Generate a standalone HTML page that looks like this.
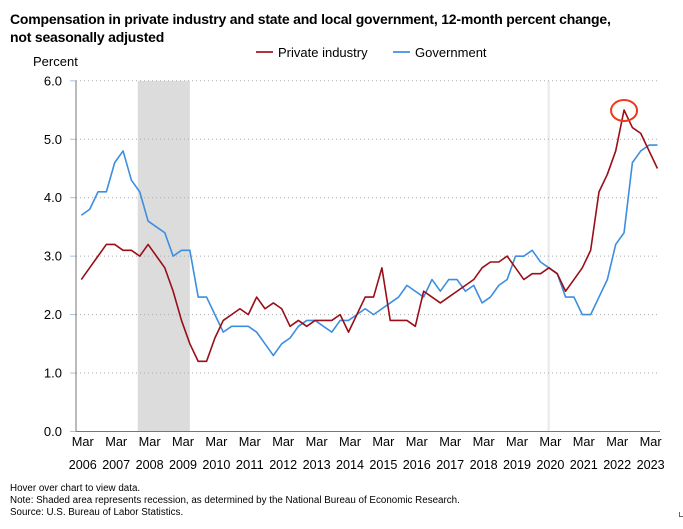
<!DOCTYPE html>
<html><head><meta charset="utf-8"><style>
body{margin:0;background:#fff;font-family:"Liberation Sans",sans-serif;}
#wrap{position:relative;width:683px;height:529px;overflow:hidden;}
.title{position:absolute;left:10px;top:10px;font-size:14px;font-weight:bold;line-height:18px;color:#000;letter-spacing:-0.2px;}
.foot{position:absolute;left:10px;font-size:9.8px;color:#000;}
</style></head><body>
<div id="wrap">
<div class="title">Compensation in private industry and state and local government, 12-month percent change,<br>not seasonally adjusted</div>
<svg id="chart" width="683" height="529" style="position:absolute;left:0;top:0"></svg>
<div class="foot" style="top:483px">Hover over chart to view data.</div>
<div class="foot" style="top:495px">Note: Shaded area represents recession, as determined by the National Bureau of Economic Research.</div>
<div class="foot" style="top:507px">Source: U.S. Bureau of Labor Statistics.</div>
<div style="position:absolute;left:679px;top:512px;width:3px;height:4px;border-left:1px solid #666;border-bottom:1px solid #666"></div>
</div>
<script>
const years=[2006,2007,2008,2009,2010,2011,2012,2013,2014,2015,2016,2017,2018,2019,2020,2021,2022,2023];
const yTicks=[0,1,2,3,4,5,6];
const privateIndustry=[2.6,2.8,3.0,3.2,3.2,3.1,3.1,3.0,3.2,3.0,2.8,2.4,1.9,1.5,1.2,1.2,1.6,1.9,2.0,2.1,2.0,2.3,2.1,2.2,2.1,1.8,1.9,1.8,1.9,1.9,1.9,2.0,1.7,2.0,2.3,2.3,2.8,1.9,1.9,1.9,1.8,2.4,2.3,2.2,2.3,2.4,2.5,2.6,2.8,2.9,2.9,3.0,2.8,2.6,2.7,2.7,2.8,2.7,2.4,2.6,2.8,3.1,4.1,4.4,4.8,5.5,5.2,5.1,4.8,4.5];
const government=[3.7,3.8,4.1,4.1,4.6,4.8,4.3,4.1,3.6,3.5,3.4,3.0,3.1,3.1,2.3,2.3,2.0,1.7,1.8,1.8,1.8,1.7,1.5,1.3,1.5,1.6,1.8,1.9,1.9,1.8,1.7,1.9,1.9,2.0,2.1,2.0,2.1,2.2,2.3,2.5,2.4,2.3,2.6,2.4,2.6,2.6,2.4,2.5,2.2,2.3,2.5,2.6,3.0,3.0,3.1,2.9,2.8,2.7,2.3,2.3,2.0,2.0,2.3,2.6,3.2,3.4,4.6,4.8,4.9,4.9];
const recession=[7,13];
const covidMarker=56;
const peakIndex=65;

const svg=document.getElementById('chart');
const NS='http://www.w3.org/2000/svg';
const x0=81.3,dx=8.35,yZero=431.5,yUnit=58.45,plotL=76,plotR=660;
function xs(i){return x0+dx*i;}
function ys(v){return yZero-v*yUnit;}
function mk(tag,attrs,parent){const e=document.createElementNS(NS,tag);for(const k in attrs)e.setAttribute(k,attrs[k]);(parent||svg).appendChild(e);return e;}

let r=mk('rect',{x:xs(recession[0])-2,y:ys(6),width:xs(recession[1])-xs(recession[0])+2,height:ys(0)-ys(6),fill:'#dcdcdc'});


let cv=mk('rect',{x:xs(covidMarker)-1.5,y:ys(6),width:2.5,height:ys(0)-ys(6),fill:'#ececec'});



yTicks.forEach(v=>{
  if(v>0){let g=mk('line',{x1:plotL,x2:plotR,y1:ys(v),y2:ys(v),stroke:'#aaa','stroke-width':1,'stroke-dasharray':'1,3'});
  
  }
  let tk=mk('line',{x1:plotL-6,x2:plotL,y1:ys(v),y2:ys(v),stroke:'#a8c0e0','stroke-width':1});
  
  
  let t=mk('text',{x:62,y:ys(v)+4.5,'text-anchor':'end','font-size':13,fill:'#000','font-family':'Liberation Sans, sans-serif'});
  t.textContent=v.toFixed(1);
  
  
});
let yt=mk('text',{x:33,y:66,'font-size':13,fill:'#000','font-family':'Liberation Sans, sans-serif'});
yt.textContent='Percent';



let ya=mk('line',{x1:plotL,x2:plotL,y1:ys(6),y2:ys(0),stroke:'#777','stroke-width':1});


let xa=mk('line',{x1:plotL,x2:plotR,y1:ys(0),y2:ys(0),stroke:'#777','stroke-width':1});



years.forEach((yr,k)=>{
  const cx=xs(k*4)+1.5;
  let t1=mk('text',{x:cx,y:446,'text-anchor':'middle','font-size':13,fill:'#000','font-family':'Liberation Sans, sans-serif',textLength:22,lengthAdjust:'spacingAndGlyphs'});
  t1.textContent='Mar';
  
  
  let t2=mk('text',{x:cx,y:469,'text-anchor':'middle','font-size':13,fill:'#000','font-family':'Liberation Sans, sans-serif',textLength:28,lengthAdjust:'spacingAndGlyphs'});
  t2.textContent=yr;
  
  
});

function line(data,color,name){
  const p=mk('polyline',{points:data.map((v,i)=>xs(i)+','+ys(v)).join(' '),fill:'none',stroke:color,'stroke-width':1.6,'stroke-linejoin':'round'});
  
  
}
line(government,'#3d8ee0','government-line');
line(privateIndustry,'#990e18','private-industry-line');

let pc=mk('ellipse',{cx:xs(peakIndex),cy:ys(privateIndustry[peakIndex])+0.5,rx:13,ry:10.5,fill:'none',stroke:'#ee3a1a','stroke-width':2});



let l1=mk('line',{x1:256,x2:273,y1:52,y2:52,stroke:'#b0343c','stroke-width':2});


let lt1=mk('text',{x:278,y:57,'font-size':13,fill:'#000','font-family':'Liberation Sans, sans-serif'});
lt1.textContent='Private industry';


let l2=mk('line',{x1:393,x2:410,y1:52,y2:52,stroke:'#5a9de6','stroke-width':2});


let lt2=mk('text',{x:415,y:57,'font-size':13,fill:'#000','font-family':'Liberation Sans, sans-serif'});
lt2.textContent='Government';


</script>
</body></html>
